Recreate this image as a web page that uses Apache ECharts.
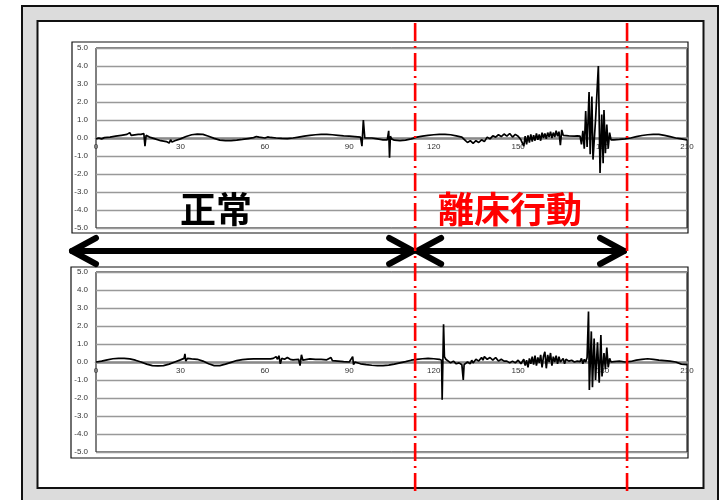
<!DOCTYPE html>
<html>
<head>
<meta charset="utf-8">
<script src="https://cdn.jsdelivr.net/npm/echarts@6/dist/echarts.min.js"></script>
<style>
html,body{margin:0;padding:0;background:#fff;}
#c{width:727px;height:500px;}
</style>
</head>
<body>
<div id="c"></div>
<script>
// ---- data ----
const xTicks = [0, 30, 60, 90, 120, 150, 180, 210];
const yTicks = [-5, -4, -3, -2, -1, 0, 1, 2, 3, 4, 5];
const labelNormal = '正常';
const labelLeave = '離床行動';
const dividerX = [113.4, 188.7];

const upperSignal = [
[0,-0.05],[1,0.0],[2,-0.05],[3,0.02],[5,0.05],[7,0.1],[9,0.15],[11,0.2],[12,0.3],[12.5,0.15],[13,0.22],[15,0.2],[16,0.2],[17,0.25],[17.4,-0.45],[17.8,0.15],
[19,0.05],[21,-0.05],[23,-0.15],[25,-0.2],[26,-0.28],[26.5,-0.1],[27,-0.22],[28,-0.15],[30,-0.05],[32,0.08],[34,0.18],[36,0.22],[38,0.2],[40,0.1],
[42,-0.02],[44,-0.12],[46,-0.15],[48,-0.15],[50,-0.12],[52,-0.08],[54,-0.03],[56,0.02],[57,0.08],[57.5,-0.02],[58,0.05],[60,0.0],[61,0.06],[61.5,-0.02],
[62,0.03],[64,0.0],[66,-0.02],[68,-0.03],[70,0.0],[72,0.05],[74,0.1],[76,0.15],[78,0.18],[80,0.2],[82,0.2],[84,0.18],[86,0.15],[88,0.12],[90,0.1],
[92,0.08],[94,0.05],[94.5,-0.45],[95,1.0],[95.5,0.0],[96,0.05],[98,0.0],[100,-0.05],[102,-0.1],[103.5,-0.1],[104,0.4],[104.3,-1.1],[104.6,0.1],[105,-0.05],
[106,-0.12],[108,-0.15],[110,-0.12],[112,-0.05],[114,0.05],[116,0.1],[118,0.15],[120,0.18],[122,0.2],[124,0.2],[126,0.18],[128,0.12],[130,0.05],
[131,-0.1],[132,-0.25],[133,-0.15],[134,-0.3],[135,-0.15],[136,-0.25],[137,-0.1],[138,-0.2],[139,0.05],[140,-0.05],[141,0.12],[142,0.05],[143,0.18],
[144,0.08],[145,0.22],[146,0.1],[147,0.25],[148,0.05],[149,0.2],[150,0.1],[151,-0.1],[152,-0.45],[152.5,0.1],[153,-0.35],[153.5,0.15],[154,-0.25],
[154.5,0.2],[155,-0.2],[155.5,0.15],[156,-0.15],[156.5,0.25],[157,-0.1],[157.5,0.2],[158,-0.15],[158.5,0.3],[159,0.0],[159.5,0.25],[160,-0.05],
[160.5,0.3],[161,0.05],[161.5,0.35],[162,0.0],[162.5,0.3],[163,0.05],[163.5,0.4],[164,0.1],[164.5,0.35],[165,-0.4],[165.5,0.45],[166,0.15],[168,0.12],
[170,0.1],[171,0.12],[172,0.1],[172.5,-0.35],[173,0.4],[173.5,-0.6],[174,1.5],[174.5,-0.5],[175.2,2.55],[175.6,-0.9],[176.2,2.3],[176.6,-1.2],[177.5,1.0],
[178.5,4.0],[179.1,-1.95],[179.7,1.3],[180.2,-1.4],[180.5,1.55],[181,-0.85],[181.5,0.75],[182,-0.6],[182.5,0.3],[183,-0.1],[184,-0.1],[186,-0.08],
[188,-0.05],[190,0.0],[192,0.08],[194,0.14],[196,0.18],[198,0.2],[200,0.2],[202,0.15],[204,0.08],[206,0.0],[208,-0.05],[210,-0.1]
];

const lowerSignal = [
[0,0.0],[2,0.05],[4,0.12],[6,0.18],[8,0.2],[10,0.2],[12,0.17],[14,0.1],[16,0.0],[18,-0.12],[20,-0.2],[22,-0.22],[24,-0.2],[26,-0.12],[28,0.0],[30,0.12],
[31.3,0.2],[31.6,0.45],[31.9,0.05],[32.5,0.2],[34,0.17],[36,0.15],[38,0.05],[40,-0.1],[42,-0.2],[44,-0.2],[46,-0.12],[48,-0.02],[50,0.08],[52,0.13],
[54,0.16],[56,0.17],[58,0.17],[60,0.18],[62,0.17],[63,0.2],[63.5,0.1],[64,0.3],[64.5,0.15],[65,0.35],[65.5,-0.1],[66,0.2],[67,0.15],[68,0.25],[69,0.15],
[70,0.12],[72,0.15],[72.5,-0.2],[73,0.4],[73.5,0.1],[74,0.2],[76,0.17],[78,0.15],[80,0.15],[82,0.12],[83.5,0.25],[84,0.08],[86,0.05],[88,0.02],[90,0.0],
[91.2,0.3],[91.5,-0.15],[92,0.0],[94,-0.1],[96,-0.15],[98,-0.18],[100,-0.2],[102,-0.2],[104,-0.17],[106,-0.12],[108,-0.05],[110,0.02],[112,0.1],
[114,0.15],[116,0.18],[118,0.2],[120,0.18],[122,0.15],[122.8,0.1],[123,-2.1],[123.5,2.1],[123.8,0.3],[124.3,0.15],[125,0.25],[126,-0.05],[127,0.05],
[128,-0.1],[129,-0.05],[130,-0.15],[130.5,-1.0],[130.8,-0.15],[131.5,-0.1],[132,0.0],[133,-0.1],[133.5,0.1],[134,-0.05],[135,0.15],[136,0.05],[137,0.25],
[137.5,0.1],[138,0.3],[139,0.15],[140,0.25],[141,0.1],[142,0.25],[143,0.05],[144,0.15],[145,0.05],[146,0.05],[147,-0.05],[148,0.05],[149,-0.05],
[150,0.1],[151,-0.1],[152,0.15],[152.5,-0.2],[153,0.1],[153.5,-0.3],[154,0.2],[154.5,-0.1],[155,0.3],[155.5,-0.15],[156,0.35],[156.5,-0.2],[157,0.25],
[157.5,-0.05],[158,0.4],[158.5,-0.3],[159,0.3],[159.5,0.57],[160,-0.35],[160.5,0.4],[161,0.0],[161.5,0.5],[162,-0.2],[162.5,0.3],[163,0.0],[163.5,0.35],
[164,-0.1],[164.5,0.3],[165,0.0],[166,0.2],[166.5,-0.1],[167,0.15],[168,0.05],[169,0.1],[170,0.0],[171,0.05],[172,0.02],[172.5,0.2],[173,-0.1],
[173.5,0.15],[174,0.0],[174.5,0.25],[175,2.8],[175.3,-1.55],[176,1.7],[176.4,-1.4],[177,1.3],[177.5,-1.0],[178.2,1.1],[178.8,-1.15],[179.4,1.5],
[179.8,-0.8],[180.5,0.5],[181,-0.4],[181.5,0.8],[182,-0.3],[182.5,0.2],[183,0.0],[184,0.02],[186,0.05],[188,0.0],[190,0.03],[192,0.1],[194,0.15],
[196,0.18],[198,0.15],[200,0.1],[202,0.08],[204,0.05],[206,0.0],[208,-0.12],[210,-0.15]
];

// ---- chart ----
const chart = echarts.init(document.getElementById('c'), null, {renderer: 'canvas'});
const font = '"Liberation Sans", Arial, sans-serif';
const cjk = '"Noto Sans CJK JP", "Noto Sans CJK SC", sans-serif';
const plotH = 180;

function xAxisCfg(idx) {
  return {
    type: 'value', gridIndex: idx, min: xTicks[0], max: xTicks[xTicks.length - 1],
    interval: xTicks[1] - xTicks[0],
    position: 'bottom', offset: -plotH / 2,
    axisLine: {show: true, onZero: false, lineStyle: {color: '#8a8a8a', width: 2.5}},
    axisTick: {show: false},
    splitLine: {show: false},
    axisLabel: {show: true, fontSize: 8, color: '#333', fontFamily: font, margin: 5,
      showMinLabel: true, showMaxLabel: true}
  };
}
function yAxisCfg(idx) {
  return {
    type: 'value', gridIndex: idx, min: yTicks[0], max: yTicks[yTicks.length - 1],
    interval: yTicks[1] - yTicks[0],
    axisLine: {show: false, onZero: false}, axisTick: {show: false},
    splitLine: {show: true, lineStyle: {color: '#999', width: 1.3}},
    axisLabel: {fontSize: 8, color: '#333', fontFamily: font, margin: 8,
      formatter: v => v.toFixed(1)}
  };
}
function seriesCfg(idx, data) {
  return {
    type: 'line', xAxisIndex: idx, yAxisIndex: idx, data: data,
    showSymbol: false, symbol: 'none', smooth: false, animation: false,
    lineStyle: {color: '#000', width: 1.7}, z: 5
  };
}

chart.setOption({
  animation: false,
  backgroundColor: '#fff',
  grid: [
    {left: 96, right: 40, top: 48, height: plotH, show: true, borderColor: '#000', borderWidth: 1, backgroundColor: 'transparent'},
    {left: 96, right: 40, top: 272, height: plotH, show: true, borderColor: '#000', borderWidth: 1, backgroundColor: 'transparent'}
  ],
  xAxis: [xAxisCfg(0), xAxisCfg(1)],
  yAxis: [yAxisCfg(0), yAxisCfg(1)],
  series: [seriesCfg(0, upperSignal), seriesCfg(1, lowerSignal)]
});

// decorations
const d1 = chart.convertToPixel({xAxisIndex: 0}, dividerX[0]);
const d2 = chart.convertToPixel({xAxisIndex: 0}, dividerX[1]);
const arrowY = 251;
const arrowStyle = {stroke: '#000', lineWidth: 6, lineCap: 'round', lineJoin: 'round', fill: null};
function head(tipX, dir) {
  return {type: 'polyline', z: 50, shape: {points: [[tipX - dir * 24, arrowY - 13], [tipX, arrowY], [tipX - dir * 24, arrowY + 13]]}, style: arrowStyle};
}
const graphics = [
  {type: 'rect', z: -20, shape: {x: 22, y: 6, width: 696, height: 510}, style: {fill: '#dcdcdc', stroke: '#111', lineWidth: 2}},
  {type: 'rect', z: -19, shape: {x: 37.5, y: 21, width: 666, height: 467}, style: {fill: '#fff', stroke: '#111', lineWidth: 2}},
  {type: 'rect', z: -18, shape: {x: 72, y: 42, width: 616, height: 191}, style: {fill: '#fff', stroke: '#111', lineWidth: 1.2}},
  {type: 'rect', z: -18, shape: {x: 71, y: 267, width: 617, height: 191}, style: {fill: '#fff', stroke: '#111', lineWidth: 1.2}},
  {type: 'text', z: 60, style: {text: labelNormal, x: 216, y: 209, font: 'bold 36px ' + cjk, fill: '#000', align: 'center', verticalAlign: 'middle'}},
  {type: 'text', z: 60, style: {text: labelLeave, x: 510, y: 209, font: 'bold 36px ' + cjk, fill: '#ff0000', align: 'center', verticalAlign: 'middle'}},
  {type: 'line', z: 50, shape: {x1: 72, y1: arrowY, x2: d1 - 2, y2: arrowY}, style: arrowStyle},
  head(72, -1), head(d1 - 2, 1),
  {type: 'line', z: 50, shape: {x1: d1 + 2, y1: arrowY, x2: d2 - 3, y2: arrowY}, style: arrowStyle},
  head(d1 + 2, -1), head(d2 - 3, 1),
  {type: 'line', z: 70, shape: {x1: d1, y1: 23, x2: d1, y2: 492}, style: {stroke: '#ff0000', lineWidth: 2.6, lineDash: [18, 5, 2, 5]}},
  {type: 'line', z: 70, shape: {x1: d2, y1: 23, x2: d2, y2: 492}, style: {stroke: '#ff0000', lineWidth: 2.6, lineDash: [18, 5, 2, 5]}}
];
chart.setOption({graphic: {elements: graphics}});
</script>
</body>
</html>
